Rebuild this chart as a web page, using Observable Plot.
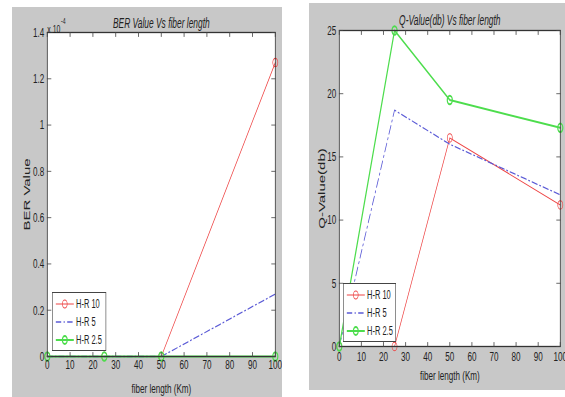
<!DOCTYPE html>
<html><head><meta charset="utf-8">
<script src="https://cdn.jsdelivr.net/npm/d3@7"></script>
<script src="https://cdn.jsdelivr.net/npm/@observablehq/plot@0.6"></script>
<style>
body{margin:0;background:#fff;}
#wrap{position:relative;width:565px;height:397px;overflow:hidden;font-family:"Liberation Sans",Arial,sans-serif;}
.panel{position:absolute;background:#c8c8c8;transform-origin:0 0;}
.panel svg{display:block;}
.legend{position:absolute;background:#fff;border:1.5px solid #444;font-size:12.5px;color:#222;box-sizing:border-box;padding:2px 2px 2px 4px;white-space:nowrap;overflow:hidden;}
.legend .row{display:flex;align-items:center;height:18px;}
.legend svg{margin-right:3px;flex:none;}
</style></head><body><div id="wrap"></div>
<script>
// ---- data ----
const fiberLength = [0, 25, 50, 100];
const seriesNames = ["H-R 10", "H-R 5", "H-R 2.5"];
const berHR10 = [0, 0, 0, 1.27e-4];
const berHR5 = [0, 0, 0, 0.27e-4];
const berHR25 = [0, 0, 0, 0];
const qHR10 = [0, 0, 16.5, 11.2];
const qHR5 = [0, 18.7, 16, 12];
const qHR25 = [0, 25, 19.5, 17.3];
const xTicks = [0, 10, 20, 30, 40, 50, 60, 70, 80, 90, 100];
const berTicks = [0, 0.2e-4, 0.4e-4, 0.6e-4, 0.8e-4, 1.0e-4, 1.2e-4, 1.4e-4];
const qTicks = [0, 5, 10, 15, 20, 25];

// the reference picture is squeezed horizontally
const SX = 0.6;

const styles = [
  {stroke: "#ee4444", width: 1.1, dash: null, marker: true},
  {stroke: "#5b5bd6", width: 1.3, dash: "9,4,2,4", marker: false},
  {stroke: "#4ddd4d", width: 2, dash: null, marker: true}
];

const FONT = "'Liberation Sans',Arial,sans-serif";
const tickShape = {draw(context, l) { context.moveTo(0, 0); context.lineTo(0, -l); }};

function toRows(vals) {
  return vals.flatMap((v, si) => v.map((y, i) => ({series: seriesNames[si], si, x: fiberLength[i], y})));
}

const wrap = document.getElementById("wrap");

function panel(cfg) {
  const W = cfg.width / SX;
  const div = document.createElement("div");
  div.className = "panel";
  Object.assign(div.style, {left: cfg.left + "px", top: cfg.top + "px", width: W + "px", height: cfg.height + "px", transform: `scaleX(${SX})`});
  const rows = toRows(cfg.values);
  const lineMarks = styles.flatMap((s, si) => {
    const d = rows.filter(r => r.si === si);
    const m = [Plot.line(d, {x: "x", y: "y", stroke: s.stroke, strokeWidth: s.width, strokeDasharray: s.dash ?? undefined})];
    if (s.marker) m.push(Plot.dot(d, {x: "x", y: "y", r: 4.2, stroke: s.stroke, strokeWidth: s.width, fill: "none"}));
    return m;
  });
  const tickStroke = "#444";
  const tkx = {length: 4, anchor: "start", stroke: tickStroke, shape: tickShape, strokeWidth: 1};
  const tky = {length: 6, anchor: "start", stroke: tickStroke, shape: tickShape, strokeWidth: 1};
  const chart = Plot.plot({
    width: W, height: cfg.height,
    marginLeft: cfg.ml / SX, marginRight: cfg.mr / SX, marginTop: cfg.mt, marginBottom: cfg.mb,
    style: {background: "transparent", fontFamily: FONT, color: "#222"},
    x: {domain: [0, 100]},
    y: {domain: cfg.yDomain},
    marks: [
      Plot.frame({fill: "#fff", stroke: null}),
      ...lineMarks,
      Plot.frame({stroke: "#333", strokeWidth: 1.3}),
      Plot.vector(xTicks, {x: d => d, frameAnchor: "bottom", rotate: 0, ...tkx}),
      Plot.vector(xTicks, {x: d => d, frameAnchor: "top", rotate: 180, ...tkx}),
      Plot.vector(cfg.yTicks, {y: d => d, frameAnchor: "left", rotate: 90, ...tky}),
      Plot.vector(cfg.yTicks, {y: d => d, frameAnchor: "right", rotate: -90, ...tky}),
      Plot.axisX(xTicks, {tickSize: 0, tickPadding: cfg.xPad, fontSize: 13.5, tickFormat: d => d,
        label: "fiber length (Km)", labelAnchor: "center", labelArrow: "none", labelOffset: cfg.xLabOff}),
      Plot.axisY(cfg.yTicks, {tickSize: 0, tickPadding: 5, fontSize: 13.5, tickFormat: cfg.yFmt,
        label: cfg.yLabel, labelAnchor: "center", labelArrow: "none", labelOffset: cfg.yLabOff}),
      Plot.text([cfg.title], {text: d => d, frameAnchor: "top", dy: cfg.titleDy, fontStyle: "italic", fontSize: 14, fill: "#222"}),
      ...(cfg.extra || [])
    ]
  });
  chart.querySelectorAll("g[aria-label='y-axis label']").forEach(g => g.setAttribute("font-size", "15"));
  div.appendChild(chart);

  const lg = document.createElement("div");
  lg.className = "legend";
  const [lx, ly, lw, lh] = cfg.legend;
  Object.assign(lg.style, {left: (lx - cfg.left) / SX + "px", top: (ly - cfg.top) + "px", width: lw / SX + "px", height: lh + "px"});
  styles.forEach((s, si) => {
    const row = document.createElement("div");
    row.className = "row";
    row.innerHTML = `<svg width="32" height="10"><line x1="1" y1="5" x2="31" y2="5" stroke="${s.stroke}" stroke-width="${s.width}" ${s.dash ? `stroke-dasharray="${s.dash}"` : ""}/>${s.marker ? `<circle cx="16" cy="5" r="4" fill="none" stroke="${s.stroke}" stroke-width="${s.width}"/>` : ""}</svg><span>${seriesNames[si]}</span>`;
    lg.appendChild(row);
  });
  div.appendChild(lg);
  wrap.appendChild(div);
}

panel({
  left: 12, top: 7, width: 270, height: 390,
  ml: 35, mr: 7, mt: 25, mb: 41,
  values: [berHR10, berHR5, berHR25],
  yDomain: [0, 1.4e-4], yTicks: berTicks, yFmt: d => +(d * 1e4).toFixed(1),
  yLabel: "BER Value", yLabOff: 40, xPad: 3, xLabOff: 36,
  title: "BER Value Vs fiber length", titleDy: -14,
  legend: [52, 292, 54, 59],
  extra: [
    Plot.text(["x 10"], {text: d => d, frameAnchor: "top-left", textAnchor: "start", dy: -8, dx: 0, fontSize: 11.5, fill: "#222"}),
    Plot.text(["-4"], {text: d => d, frameAnchor: "top-left", textAnchor: "start", dy: -15, dx: 23, fontSize: 8.5, fill: "#222"})
  ]
});

panel({
  left: 309, top: 3, width: 256, height: 387,
  ml: 30, mr: 5, mt: 27, mb: 44,
  values: [qHR10, qHR5, qHR25],
  yDomain: [0, 25], yTicks: qTicks, yFmt: d => d,
  yLabel: "Q-Value(db)", yLabOff: 35, xPad: 5, xLabOff: 34,
  title: "Q-Value(db) Vs fiber length", titleDy: -15,
  legend: [343, 283, 53, 59]
});
</script></body></html>
